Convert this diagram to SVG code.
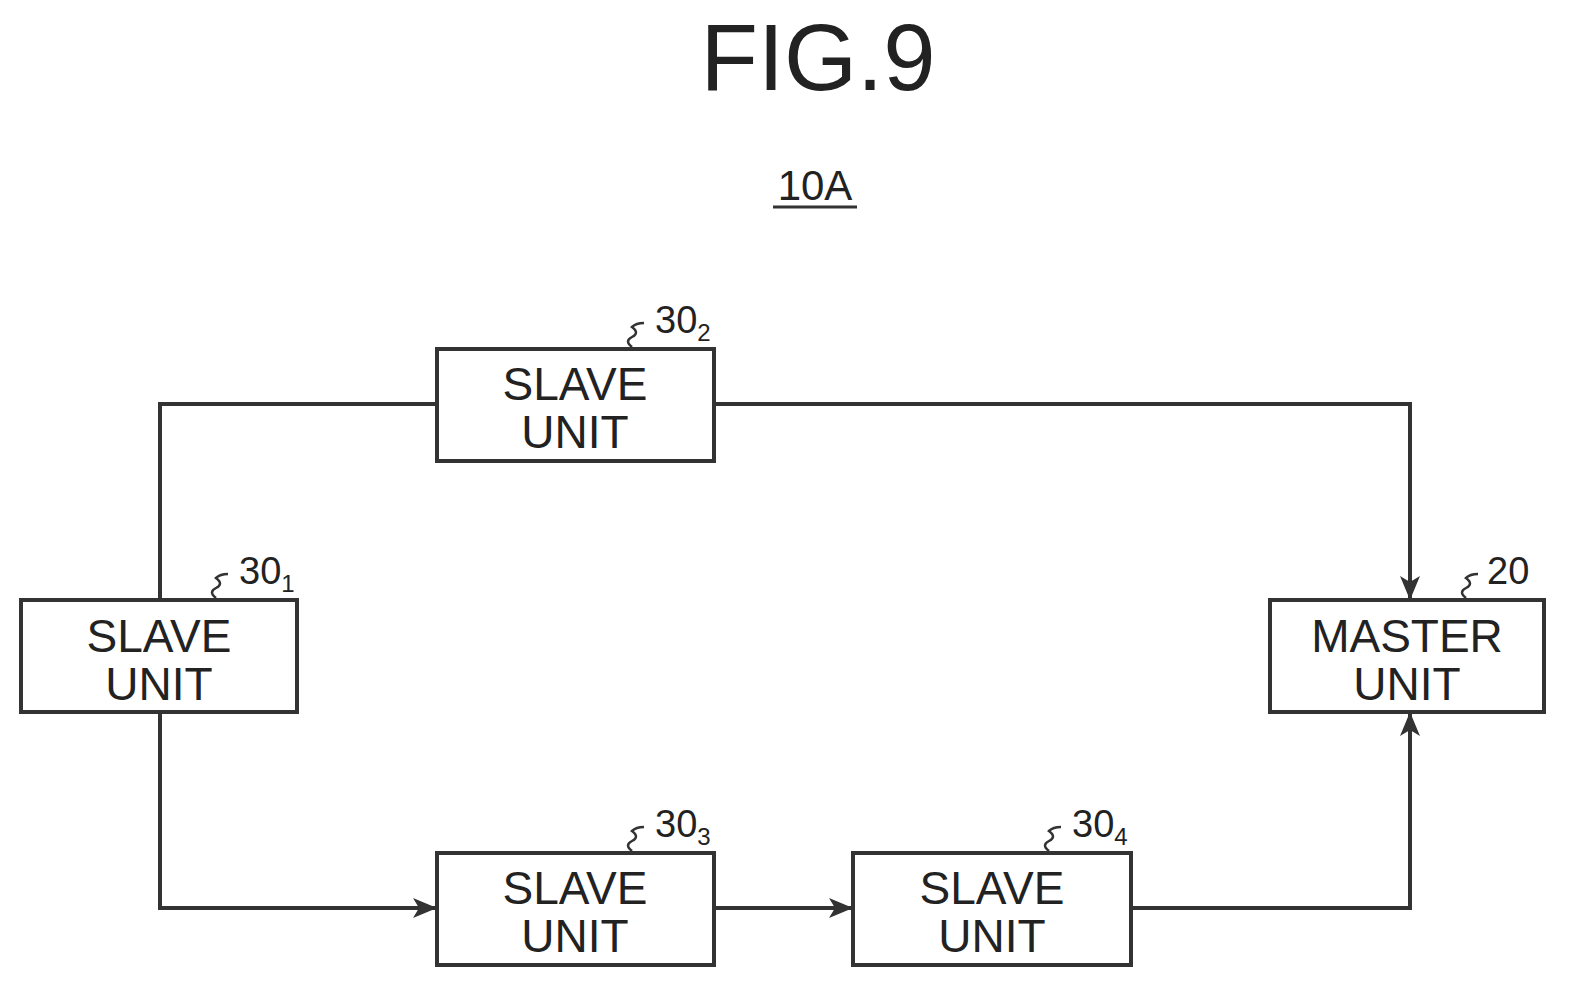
<svg xmlns="http://www.w3.org/2000/svg" width="1590" height="1000" viewBox="0 0 1590 1000">
<style>
.box{fill:#fff;stroke:#333;stroke-width:4}
.t{font-family:"Liberation Sans",Arial,sans-serif;font-size:46px;fill:#222;text-anchor:middle}
.r{font-family:"Liberation Sans",Arial,sans-serif;font-size:38px;fill:#222}
.s{font-family:"Liberation Sans",Arial,sans-serif;font-size:24px;fill:#222}
.ln{fill:none;stroke:#333;stroke-width:4}
.sq{fill:none;stroke:#333;stroke-width:2.5}
</style>
<defs>
<marker id="ah" viewBox="0 0 24 20" refX="24" refY="10" markerWidth="24" markerHeight="20" orient="auto" markerUnits="userSpaceOnUse"><path d="M0,0 L24,10 L0,20 L6,10 Z" fill="#333"/></marker>
</defs>
<text x="818" y="90" font-family="Liberation Sans,Arial,sans-serif" font-size="94" fill="#222" text-anchor="middle">FIG.9</text>
<text x="815" y="200" class="t" style="font-size:42px">10A</text>
<line x1="773" y1="207" x2="857" y2="207" stroke="#333" stroke-width="3"/>
<g id="connectors">
<path class="ln" d="M160,600 V404 H437"/>
<path class="ln" d="M714,404 H1410 V600" marker-end="url(#ah)"/>
<path class="ln" d="M160,712 V908 H437" marker-end="url(#ah)"/>
<path class="ln" d="M714,908 H853" marker-end="url(#ah)"/>
<path class="ln" d="M1131,908 H1410 V712" marker-end="url(#ah)"/>
</g>
<g id="n302"><rect class="box" x="437" y="349" width="277" height="112"/><text class="t" x="575" y="400">SLAVE</text><text class="t" x="575" y="448">UNIT</text>
<path class="sq" d="M632,347 q-8,-6 0,-10 q8,-4 0,-10 q4,-4 12,-4"/><text class="r" x="655" y="333">30<tspan class="s" dy="8">2</tspan></text></g>
<g id="n301"><rect class="box" x="21" y="600" width="276" height="112"/><text class="t" x="159" y="652">SLAVE</text><text class="t" x="159" y="700">UNIT</text>
<path class="sq" d="M216,598 q-8,-6 0,-10 q8,-4 0,-10 q4,-4 12,-4"/><text class="r" x="239" y="584">30<tspan class="s" dy="8">1</tspan></text></g>
<g id="n20"><rect class="box" x="1270" y="600" width="274" height="112"/><text class="t" x="1407" y="652">MASTER</text><text class="t" x="1407" y="700">UNIT</text>
<path class="sq" d="M1466,598 q-8,-6 0,-10 q8,-4 0,-10 q4,-4 12,-4"/><text class="r" x="1487" y="584">20</text></g>
<g id="n303"><rect class="box" x="437" y="853" width="277" height="112"/><text class="t" x="575" y="904">SLAVE</text><text class="t" x="575" y="952">UNIT</text>
<path class="sq" d="M632,851 q-8,-6 0,-10 q8,-4 0,-10 q4,-4 12,-4"/><text class="r" x="655" y="837">30<tspan class="s" dy="8">3</tspan></text></g>
<g id="n304"><rect class="box" x="853" y="853" width="278" height="112"/><text class="t" x="992" y="904">SLAVE</text><text class="t" x="992" y="952">UNIT</text>
<path class="sq" d="M1049,851 q-8,-6 0,-10 q8,-4 0,-10 q4,-4 12,-4"/><text class="r" x="1072" y="837">30<tspan class="s" dy="8">4</tspan></text></g>
</svg>
